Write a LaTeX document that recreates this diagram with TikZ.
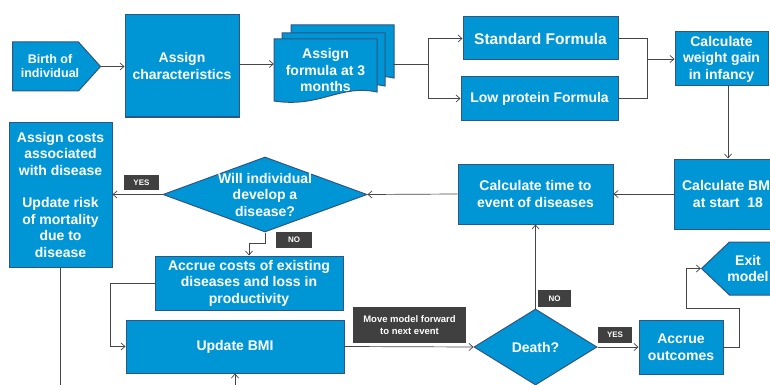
\documentclass[tikz,border=0pt]{standalone}
\usepackage{fontspec}
\setmainfont{Liberation Sans}
\usetikzlibrary{shapes.geometric,shapes.symbols,arrows.meta}

\definecolor{boxblue}{RGB}{0,150,214}
\definecolor{boxline}{RGB}{47,85,130}
\definecolor{tagdark}{RGB}{64,64,64}
\definecolor{wire}{RGB}{70,70,70}

\tikzset{
  blk/.style={draw=boxline, fill=boxblue, line width=1pt, text=white,
    align=center, inner sep=0pt, font=\fontsize{14}{16.5}\selectfont\bfseries},
  decide/.style={blk, diamond},
  plain/.style={blk, draw=none, fill=none},
  tag/.style={fill=tagdark, text=white, inner sep=0pt,
    font=\fontsize{8}{9}\selectfont\bfseries},
  flow/.style={draw=wire, line width=0.7pt},
}

\begin{document}
\begin{tikzpicture}[x=1pt, y=-1pt, >={Straight Barb[length=4pt,width=7pt]}]
    \useasboundingbox (0,0) rectangle (770,385);
    \clip (0,0) rectangle (770,385);

    % top row
    \node[blk, signal, signal to=east, signal pointer angle=96,
      minimum width=88, minimum height=49, anchor=west] (birth) at (12,66.5) {};
    \node[plain, font=\fontsize{12.5}{14}\selectfont\bfseries] (birthtxt) at (50,66.5) {Birth of\\individual};
    \node[blk, minimum width=114, minimum height=102] (assignc) at (182,66) {Assign\\characteristics};

    % stacked documents
    \foreach \dx/\dy in {17/-14, 8/-6, 0/0} {
      \draw[blk, shift={(\dx,\dy)}] (274,39) -- (377,39) -- (377,92)
        .. controls (340,84) and (320,108) .. (274,101) -- cycle;
    }
    \node[minimum width=119, minimum height=78, inner sep=0pt] (formula) at (333.5,64) {};
    \node[plain] (formulatxt) at (325.5,70) {Assign\\formula at 3\\months};

    \node[blk, minimum width=155, minimum height=43,
      font=\fontsize{15.5}{17}\selectfont\bfseries] (std) at (540.5,38.5) {Standard Formula};
    \node[blk, minimum width=157, minimum height=43] (low) at (539.5,98.5) {Low protein Formula};
    \node[blk, minimum width=93, minimum height=54] (weight) at (721.5,59) {Calculate\\weight gain\\in infancy};

    % middle row
    \node[blk, minimum width=108, minimum height=70] (bmi18) at (728,194) {Calculate BMI\\at start\ \ 18};
    \node[blk, minimum width=155, minimum height=60] (timeev) at (535.5,194) {Calculate time to\\event of diseases};
    \node[decide, minimum width=204, minimum height=75] (develop) at (265,194.5) {};
    \node[plain] (developtxt) at (develop) {Will individual\\develop a\\disease?};
    \node[blk, minimum width=103, minimum height=145] (assignd) at (60.5,194.5)
      {Assign costs\\associated\\with disease\\[16pt]Update risk\\of mortality\\due to\\disease};

    % bottom row
    \node[blk, minimum width=188, minimum height=54] (accrue) at (249,283)
      {Accrue costs of existing\\diseases and loss in\\productivity};
    \node[blk, minimum width=218, minimum height=53] (updbmi) at (235,346.5) {Update BMI};
    \node[decide, minimum width=123, minimum height=76] (death) at (535.5,347) {Death?};
    \node[blk, minimum width=84, minimum height=54] (outc) at (681,347) {Accrue\\outcomes};
    \node[blk, signal, signal to=west, signal pointer angle=87,
      minimum width=93, minimum height=53, anchor=east] (exit) at (795,268.5) {};
    \node[plain] (exittxt) at (748,268.5) {Exit\\model};

    % tags
    \node[tag, minimum width=35, minimum height=15] (yesdev) at (141.5,182.5) {YES};
    \node[tag, minimum width=36, minimum height=16] (nodev) at (294,240) {NO};
    \node[tag, minimum width=113, minimum height=36, align=center,
      font=\fontsize{9.5}{12}\selectfont\bfseries] (move) at (409.5,325) {Move model forward\\to next event};
    \node[tag, minimum width=33, minimum height=17] (nodeath) at (554.5,298.5) {NO};
    \node[tag, minimum width=34, minimum height=16] (yesdeath) at (615,335) {YES};

    % connectors
    \draw[flow, ->] (birth.east) -- (birth.east -| assignc.west);
    \draw[flow, ->] (assignc.east |- formula.west) -- (formula.west);
    \draw[flow, ->] (formula.east) -- ++(35,0) |- (std.west);
    \draw[flow, ->] (formula.east) -- ++(35,0) |- (low.west);
    \coordinate (merge) at (647,59);
    \draw[flow] (std.east) -| (merge);
    \draw[flow] (low.east) -| (merge);
    \draw[flow, ->] (merge) -- (weight.west);
    \draw[flow, ->] (bmi18.north |- weight.south) -- (bmi18.north);
    \draw[flow, ->] (bmi18.west) -- (timeev.east);
    \draw[flow, ->] (timeev.west) -- (develop.east);
    \draw[flow, ->] (develop.west) -- (assignd.east);
    \draw[flow, ->] (develop.south) -- ++(0,11) -| (accrue.north);
    \draw[flow, ->] (accrue.west) -- ++(-44,0) |- (updbmi.west);
    \coordinate (loopout) at (60.5,395);
    \coordinate (loopin) at (235,395);
    \draw[flow] (assignd.south) -- (loopout);
    \draw[flow, ->] (loopin) -- (updbmi.south);
    \draw[flow, ->] (updbmi.east) -- (death.west);
    \draw[flow, ->] (death.north) -- (timeev.south);
    \draw[flow, ->] (death.east) -- (outc.west);
    \coordinate (bend) at (686,308);
    \draw[flow, ->] (outc.east) -- ++(16,0) |- (bend) |- (exit.west);
\end{tikzpicture}
\end{document}
